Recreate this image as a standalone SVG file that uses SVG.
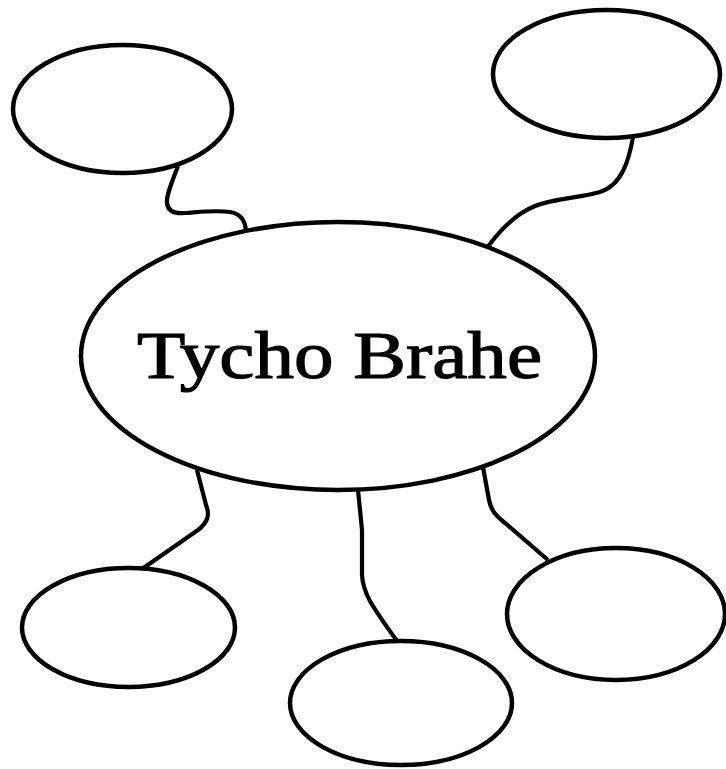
<svg xmlns="http://www.w3.org/2000/svg" width="726" height="769" viewBox="0 0 726 769">
<style>
.node{fill:#fff;stroke:#000;stroke-width:4.5}
.conn{fill:none;stroke:#000;stroke-width:4.2;stroke-linecap:butt;stroke-linejoin:round}
.title{font-family:"Liberation Serif","Times New Roman",serif;font-size:68px;fill:#000;stroke:#000;stroke-width:1.2}
</style>
<rect width="726" height="769" fill="#fff"/>
<g id="connectors">
<path class="conn" d="M178,166 C172,182 166,196 167,203 C168,212 175,214 185,213 C200,212 215,210 230,212 C242,214 246,222 246,233"/>
<path class="conn" d="M633,137 C629,160 622,185 600,192 C580,198 555,198 535,206 C515,214 500,230 487,248"/>
<path class="conn" d="M197,470 L206,505 C210,515 208,522 198,530 L142,569"/>
<path class="conn" d="M358,490 L362,530 L362,575 C363,595 375,610 397,641"/>
<path class="conn" d="M483,467 L489,500 C491,510 495,515 505,523 L548,560"/>
</g>
<g id="center">
<ellipse class="node" cx="338" cy="356" rx="257" ry="134"/>
<text class="title" x="339.5" y="378" text-anchor="middle" textLength="405" lengthAdjust="spacingAndGlyphs">Tycho Brahe</text>
</g>
<g id="top-left"><ellipse class="node" cx="122.5" cy="109" rx="109.5" ry="64"/></g>
<g id="top-right"><ellipse class="node" cx="606.5" cy="74" rx="113.5" ry="64"/></g>
<g id="bottom-left"><ellipse class="node" cx="128.5" cy="627.5" rx="106.5" ry="59.5"/></g>
<g id="bottom-center"><ellipse class="node" cx="401" cy="703" rx="111" ry="62"/></g>
<g id="bottom-right"><ellipse class="node" cx="616" cy="614" rx="109" ry="66"/></g>
</svg>
